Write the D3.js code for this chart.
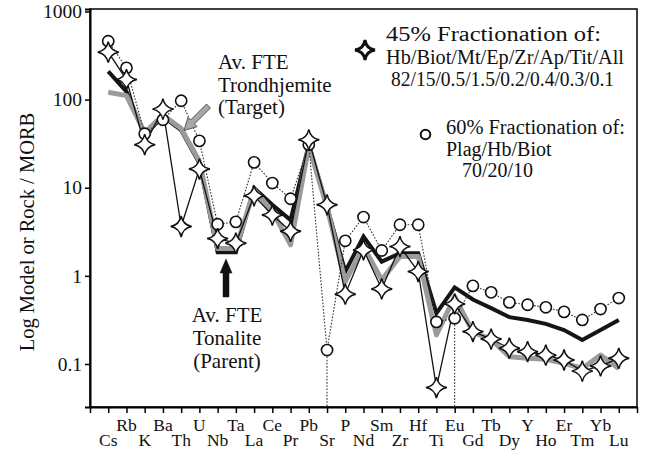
<!DOCTYPE html>
<html>
<head>
<meta charset="utf-8">
<script src="https://cdn.jsdelivr.net/npm/d3@7"></script>
<style>
  html, body { margin: 0; padding: 0; background: #fff; }
  svg { display: block; }
  text { font-family: "Liberation Serif", "Times New Roman", Times, serif; fill: #111; }
</style>
</head>
<body>
<svg id="chart" width="647" height="461"></svg>
<script>
// Elements in spider-diagram order (normalised to MORB)
const elements = ["Cs","Rb","K","Ba","Th","U","Nb","Ta","La","Ce","Pr","Pb","Sr","P","Nd",
                  "Sm","Zr","Hf","Ti","Eu","Gd","Tb","Dy","Y","Ho","Er","Tm","Yb","Lu"];

// Av. FTE Trondhjemite (target composition)
const trondhjemite = [121, 111, 42, 67, 47, 20, 2.05, 2.05, 9.5, 5.4, 2.25, 30, 6.0, 0.86, 2.15,
                      0.9, 1.66, 1.66, 0.214, 0.58, 0.23, 0.19, 0.121, 0.116, 0.113, 0.102, 0.089, 0.126, 0.089];

// Av. FTE Tonalite (parent composition)
const tonalite = [209, 123, 40, 64, 45, 19, 1.85, 1.85, 9.9, 6.4, 4.3, 31, 6.1, 1.12, 2.8,
                  1.45, 1.81, 1.81, 0.377, 0.74, 0.54, 0.43, 0.34, 0.316, 0.285, 0.243, 0.187, 0.243, 0.316];

// Model: 45% fractionation of Hb/Biot/Mt/Ep/Zr/Ap/Tit/All
const model45 = [345, 169, 30.8, 78, 3.63, 16.3, 2.65, 2.35, 8.1, 4.9, 3.2, 35, 6.4, 0.62, 1.97,
                 0.71, 2.15, 1.12, 0.054, 0.48, 0.233, 0.192, 0.151, 0.138, 0.126, 0.111, 0.083, 0.095, 0.116];

// Model: 60% fractionation of Plag/Hb/Biot
const model60 = [460, 229, 41, 59, 97, 34, 3.85, 4.1, 19.4, 11.3, 7.5, 30.8, 0.144, 2.5, 4.65,
                 1.94, 3.8, 3.8, 0.30, 0.33, 0.77, 0.65, 0.50, 0.47, 0.44, 0.39, 0.316, 0.42, 0.56];

// Elements where the 60% model trace drops below the plotted range
const dropElements = ["Sr", "Eu"];

const yTickValues = [0.1, 1, 10, 100, 1000];
const yTickLabels = ["0.1", "1", "10", "100", "1000"];

const svg = d3.select("#chart");
const plot = { left: 90, right: 637, top: 9, bottom: 407 };

const x = d3.scaleLinear().domain([-1, elements.length]).range([plot.left, plot.right]);
const y = d3.scaleLog().domain([0.0325, 1067]).range([plot.bottom, plot.top]);

// Frame
svg.append("rect")
  .attr("x", plot.left).attr("y", plot.top)
  .attr("width", plot.right - plot.left).attr("height", plot.bottom - plot.top)
  .attr("fill", "none").attr("stroke", "#111").attr("stroke-width", 1.6);

// Y axis
const yAxis = d3.axisLeft(y).tickValues(yTickValues)
  .tickFormat((d, i) => yTickLabels[i]).tickSize(5).tickPadding(3);
const gy = svg.append("g").attr("transform", `translate(${plot.left},0)`).call(yAxis);
gy.select(".domain").attr("stroke-width", 2);
gy.selectAll(".tick line").attr("stroke-width", 1.5);
gy.selectAll("text").attr("font-size", 19.5).style("font-family", "Liberation Serif, serif").attr("fill", "#111");

// X axis: a tick for every slot, element names alternating on two rows
const xAxis = d3.axisBottom(x).tickValues(d3.range(-1, elements.length + 1))
  .tickFormat("").tickSize(6).tickSizeOuter(0);
const gx = svg.append("g").attr("transform", `translate(0,${plot.bottom})`).call(xAxis);
gx.select(".domain").attr("stroke-width", 2);
gx.selectAll(".tick line").attr("stroke-width", 1.5);

svg.append("g").selectAll("text").data(elements).join("text")
  .attr("x", (d, i) => x(i))
  .attr("y", (d, i) => i % 2 === 1 ? 431 : 446)
  .attr("text-anchor", "middle")
  .attr("font-size", 17.5)
  .text(d => d);

// Y axis title
svg.append("text")
  .attr("transform", "translate(34,232) rotate(-90)")
  .attr("text-anchor", "middle")
  .attr("font-size", 20.5)
  .text("Log Model or Rock / MORB");

const line = d3.line().x((d, i) => x(i)).y(d => y(d));

// Parent tonalite (black) and target trondhjemite (grey)
svg.append("path").datum(tonalite).attr("d", line)
  .attr("fill", "none").attr("stroke", "#151515").attr("stroke-width", 4)
  .attr("stroke-linejoin", "miter");
svg.append("path").datum(trondhjemite).attr("d", line)
  .attr("fill", "none").attr("stroke", "#9b9b9b").attr("stroke-width", 5)
  .attr("stroke-linejoin", "round");

// 60% model: dotted trace plus drops to the axis
svg.append("path").datum(model60).attr("d", line)
  .attr("fill", "none").attr("stroke", "#333").attr("stroke-width", 1.1)
  .attr("stroke-dasharray", "1.6,1.6");
svg.append("g").selectAll("line").data(dropElements).join("line")
  .attr("x1", d => x(elements.indexOf(d))).attr("x2", d => x(elements.indexOf(d)))
  .attr("y1", d => y(model60[elements.indexOf(d)])).attr("y2", plot.bottom)
  .attr("stroke", "#333").attr("stroke-width", 1.1).attr("stroke-dasharray", "1.6,1.6");

// 45% model: thin solid trace
svg.append("path").datum(model45).attr("d", line)
  .attr("fill", "none").attr("stroke", "#111").attr("stroke-width", 1.3);

// Four-pointed star marker
function starPath(R, c) {
  return `M0,${-R} Q${c},${-c} ${R},0 Q${c},${c} 0,${R} Q${-c},${c} ${-R},0 Q${-c},${-c} 0,${-R}Z`;
}

svg.append("g").selectAll("circle").data(model60).join("circle")
  .attr("cx", (d, i) => x(i)).attr("cy", d => y(d)).attr("r", 5.6)
  .attr("fill", "#fff").attr("stroke", "#111").attr("stroke-width", 1.6);

svg.append("g").selectAll("path").data(model45).join("path")
  .attr("transform", (d, i) => `translate(${x(i)},${y(d)})`)
  .attr("d", starPath(10.5, 1.7))
  .attr("fill", "#fff").attr("stroke", "#111").attr("stroke-width", 1.5)
  .attr("stroke-linejoin", "miter");

// Legend
svg.append("path").attr("transform", "translate(365,50)")
  .attr("d", starPath(10, 1.2)).attr("fill", "#fff").attr("stroke", "#111").attr("stroke-width", 3);
svg.append("circle").attr("cx", 425.5).attr("cy", 134.5).attr("r", 4.8)
  .attr("fill", "#fff").attr("stroke", "#111").attr("stroke-width", 2);

function textBlock(lines) {
  lines.forEach(l => {
    const t = svg.append("text").attr("x", l[0]).attr("y", l[1]).attr("font-size", l[3])
      .attr("text-anchor", l[4] || "start").text(l[2]);
    if (l[5]) t.attr("textLength", l[5]).attr("lengthAdjust", "spacingAndGlyphs");
  });
}
textBlock([
  [386, 40.5, "45% Fractionation of:", 20.5, "start", 215],
  [386, 64, "Hb/Biot/Mt/Ep/Zr/Ap/Tit/All", 20, "start", 238],
  [391, 85.5, "82/15/0.5/1.5/0.2/0.4/0.3/0.1", 20, "start", 223],
  [446, 134, "60% Fractionation of:", 20, "start", 179],
  [446, 155.5, "Plag/Hb/Biot", 20],
  [462, 177, "70/20/10", 20],
  [218, 69, "Av. FTE", 21],
  [218, 92, "Trondhjemite", 21],
  [218, 114, "(Target)", 21],
  [227, 322, "Av. FTE", 21, "middle"],
  [227, 345, "Tonalite", 21, "middle"],
  [227, 368, "(Parent)", 21, "middle"]
]);

// Arrow pointing at the target curve (grey)
function arrow(x1, y1, x2, y2, shaft, headW, headL) {
  const dx = x2 - x1, dy = y2 - y1, len = Math.hypot(dx, dy);
  const ux = dx / len, uy = dy / len, px = -uy, py = ux;
  const bx = x2 - ux * headL, by = y2 - uy * headL;
  const pts = [
    [x1 + px * shaft / 2, y1 + py * shaft / 2],
    [bx + px * shaft / 2, by + py * shaft / 2],
    [bx + px * headW / 2, by + py * headW / 2],
    [x2, y2],
    [bx - px * headW / 2, by - py * headW / 2],
    [bx - px * shaft / 2, by - py * shaft / 2],
    [x1 - px * shaft / 2, y1 - py * shaft / 2]
  ];
  return "M" + pts.map(p => p.join(",")).join("L") + "Z";
}
svg.append("path").attr("d", arrow(208.5, 106, 184, 130.5, 5.5, 13, 12))
  .attr("fill", "#a8a8a8").attr("stroke", "#555").attr("stroke-width", 1);

// Arrow pointing at the parent curve (black)
svg.append("path").attr("d", arrow(226, 297, 226, 259, 6, 12, 14))
  .attr("fill", "#111").attr("stroke", "#111").attr("stroke-width", 0.5);
</script>
</body>
</html>
